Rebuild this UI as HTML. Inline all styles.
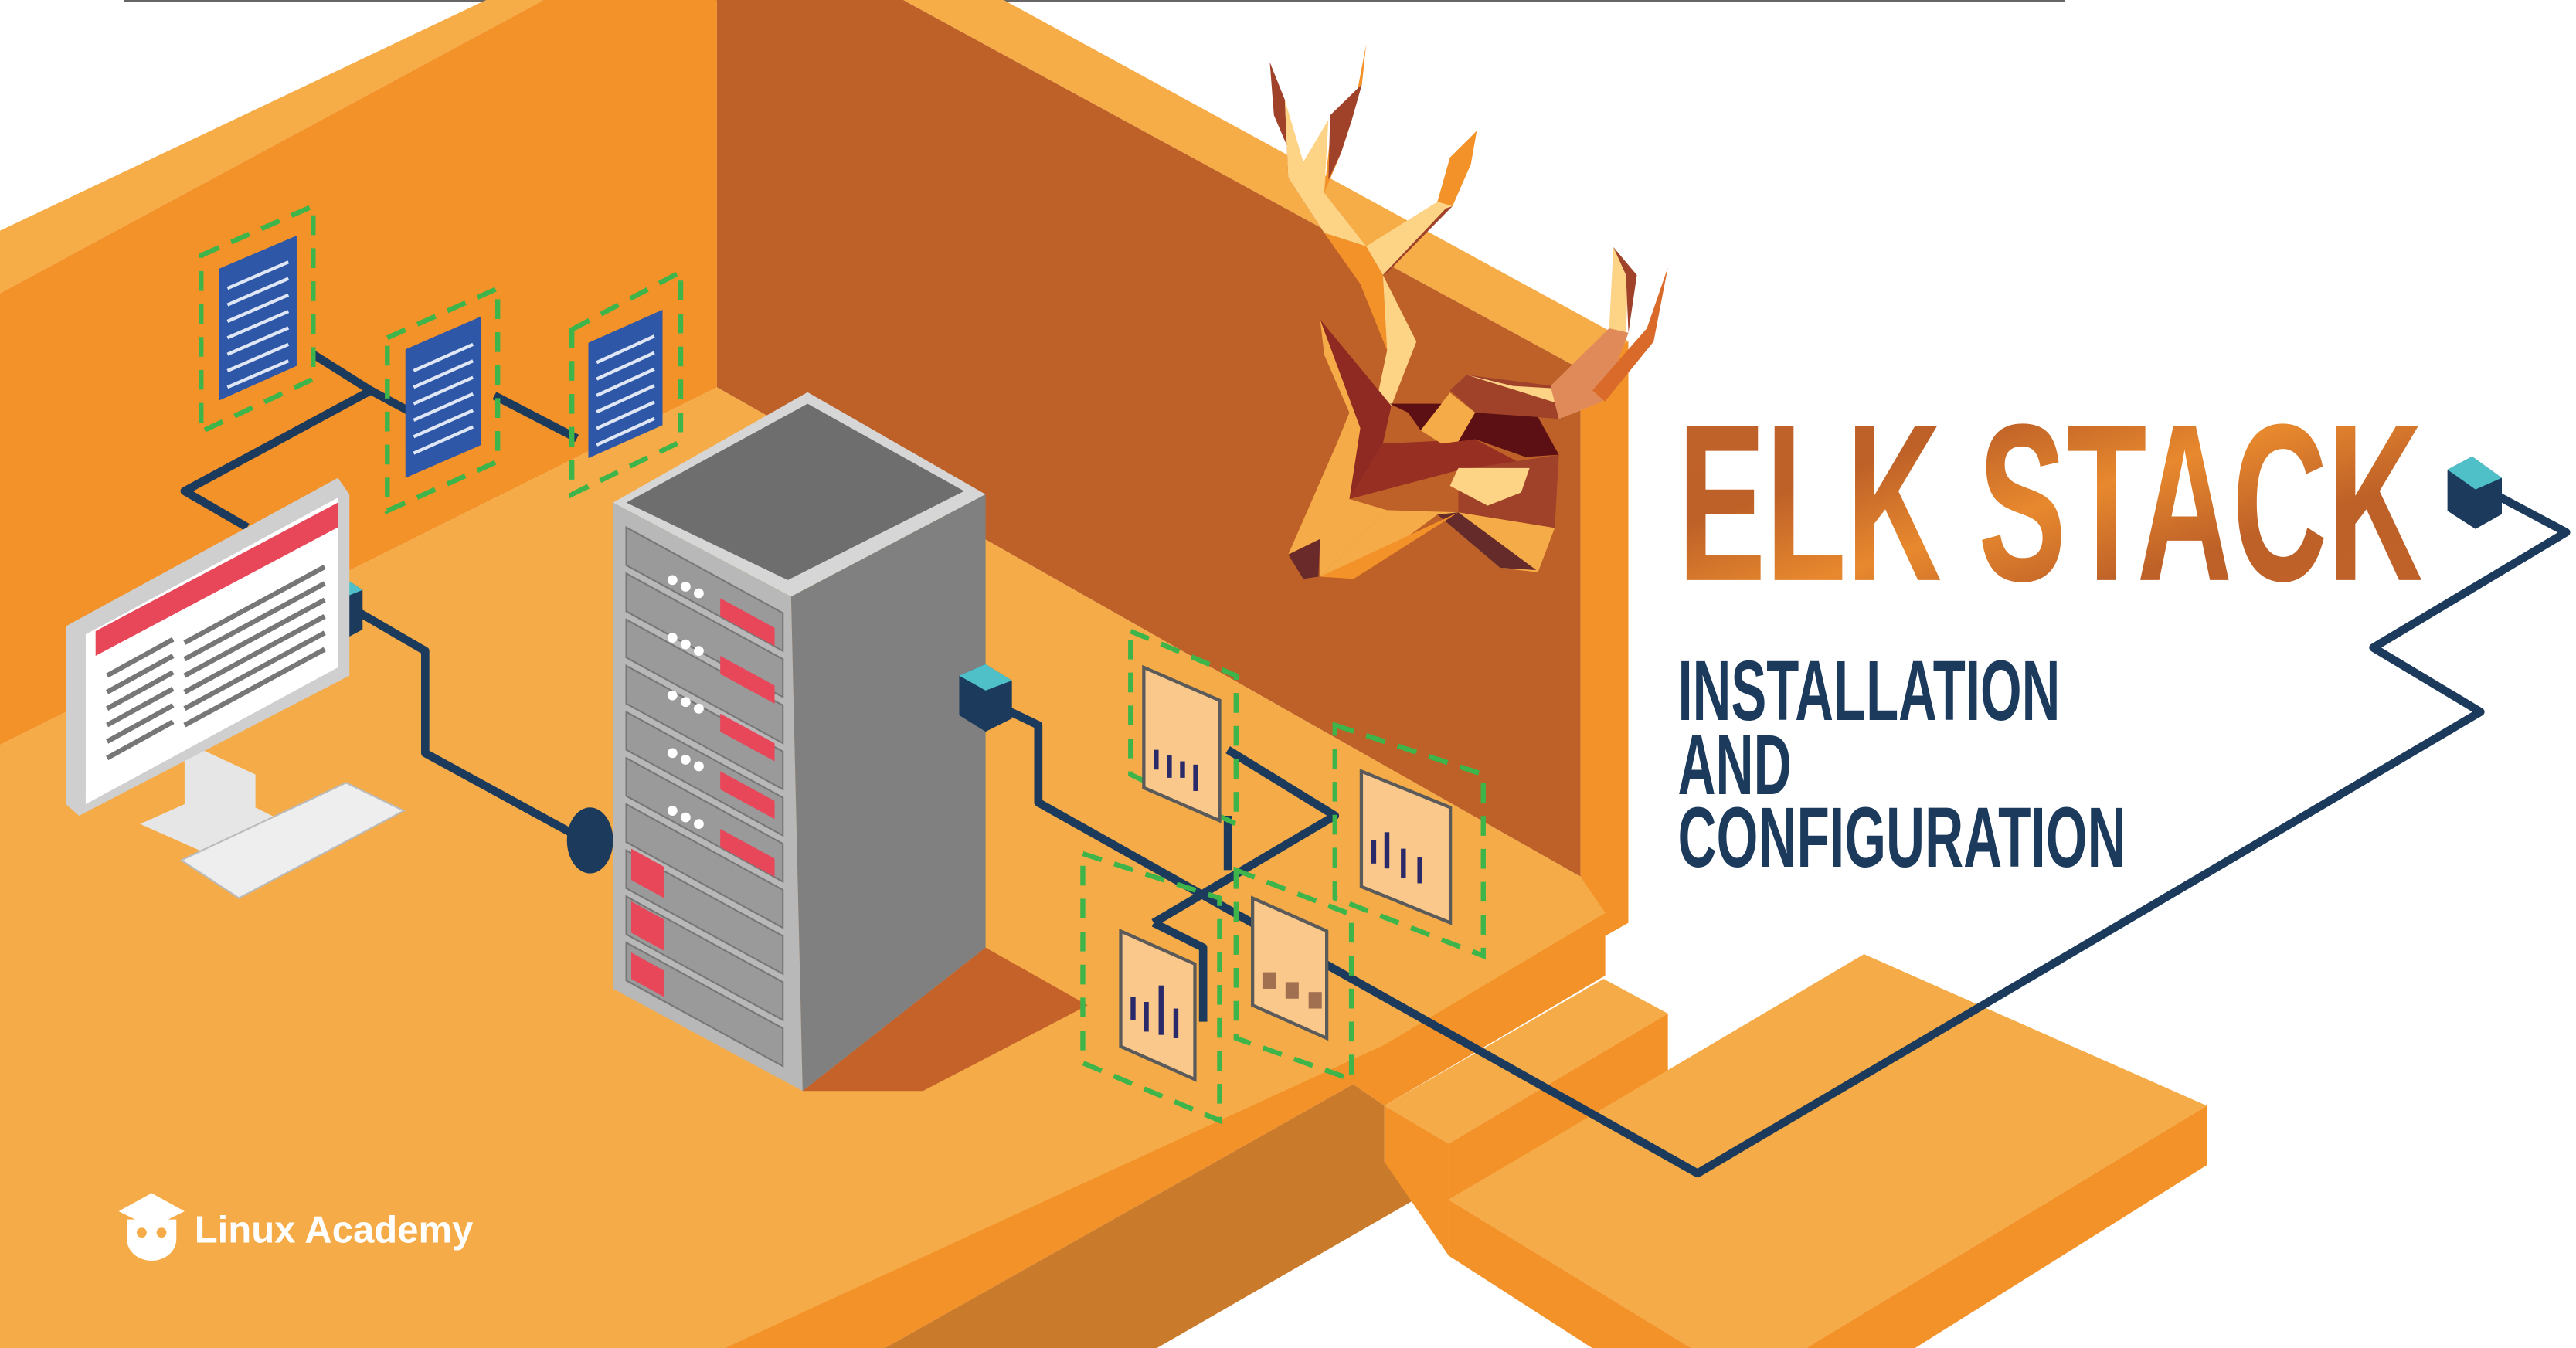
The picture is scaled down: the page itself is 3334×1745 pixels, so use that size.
<!DOCTYPE html>
<html><head><meta charset="utf-8"><style>
html,body{margin:0;padding:0;background:#fff;}
svg{display:block;}
</style></head><body>
<svg width="3334" height="1745" viewBox="0 0 1563 818" preserveAspectRatio="none" xmlns="http://www.w3.org/2000/svg">
<defs>
<linearGradient id="tg" x1="0" y1="0" x2="1" y2="1">
<stop offset="0" stop-color="#C0622A"/><stop offset="0.3" stop-color="#BE6128"/><stop offset="0.5" stop-color="#E8892E"/><stop offset="0.7" stop-color="#BE6128"/><stop offset="1" stop-color="#C0622A"/>
</linearGradient>
</defs>
<rect width="1563" height="818" fill="#fff"/>
<line x1="75" y1="0.5" x2="1253" y2="0.5" stroke="#666" stroke-width="1.2"/>
<!-- left wall -->
<polygon points="0,140 295,0 330,0 0,178" fill="#F6AC47"/>
<polygon points="0,178 330,0 435,0 435,235 0,452" fill="#F39229"/>
<!-- back wall -->
<polygon points="435,0 548,0 959,224 959,532 435,235" fill="#BE6128"/>
<polygon points="548,0 609,0 988,207 959,224" fill="#F6AC47"/>
<polygon points="959,224 988,207 988,560 974,568 959,532" fill="#F39229"/>
<!-- floor front orange -->
<polygon points="974,540 974,592 840,671 821,658 537,818 420,818" fill="#F39229"/>
<!-- floor -->
<polygon points="0,452 435,235 959,532 974,554 840,634 440,818 0,818" fill="#F5AC48"/>
<!-- brown lower -->
<polygon points="821,658 840,671 840,705 867,723 702,818 537,818" fill="#C97A2A"/>
<!-- middle step -->
<polygon points="973,594 1012,615 879,694 840,671" fill="#F5AC48"/>
<polygon points="1012,615 1012,650 879,728 879,694" fill="#F39229"/>
<polygon points="840,671 879,694 879,762 840,705" fill="#F39229"/>
<!-- big step -->
<polygon points="1131,579 1339,671 1096,818 1026,818 879,728" fill="#F5AC48"/>
<polygon points="879,728 1026,818 966,818 879,762" fill="#F39229"/>
<polygon points="1339,671 1339,707 1162,818 1096,818" fill="#F39229"/>
<!-- server shadow -->
<polygon points="487,662 598,575 660,610 560,662" fill="#C4622A"/>
<!-- server -->
<polygon points="372,305 490,238 598,300 480,362" fill="#D6D6D6"/>
<polygon points="380,305 490,245 585,298 478,352" fill="#6E6E6E"/>
<polygon points="372,305 480,362 487,662 372,600" fill="#B8B8B8"/>
<polygon points="480,362 598,300 598,575 487,662" fill="#808080"/>
<g fill="#9a9a9a" stroke="#777" stroke-width="1">
<polygon points="380,320 475,372 475,395 380,343"/>
<polygon points="380,348 475,400 475,423 380,371"/>
<polygon points="380,376 475,428 475,451 380,399"/>
<polygon points="380,404 475,456 475,479 380,427"/>
<polygon points="380,432 475,484 475,507 380,455"/>
<polygon points="380,460 475,512 475,535 380,483"/>
<polygon points="380,488 475,540 475,563 380,511"/>
<polygon points="380,516 475,568 475,591 380,539"/>
<polygon points="380,544 475,596 475,619 380,567"/>
<polygon points="380,572 475,624 475,647 380,595"/>
</g>
<g fill="#E8475A">
<polygon points="437,363 470,381 470,392 437,374"/>
<polygon points="437,398 470,416 470,427 437,409"/>
<polygon points="437,433 470,451 470,462 437,444"/>
<polygon points="437,468 470,486 470,497 437,479"/>
<polygon points="437,503 470,521 470,532 437,514"/>
<polygon points="383,515 403,526 403,545 383,534"/>
<polygon points="383,547 403,558 403,577 383,566"/>
<polygon points="383,578 403,589 403,605 383,594"/>
</g>
<g fill="#fff"><circle cx="408" cy="352" r="3"/><circle cx="416" cy="356" r="3"/><circle cx="424" cy="360" r="3"/>
<circle cx="408" cy="387" r="3"/><circle cx="416" cy="391" r="3"/><circle cx="424" cy="395" r="3"/>
<circle cx="408" cy="422" r="3"/><circle cx="416" cy="426" r="3"/><circle cx="424" cy="430" r="3"/>
<circle cx="408" cy="457" r="3"/><circle cx="416" cy="461" r="3"/><circle cx="424" cy="465" r="3"/>
<circle cx="408" cy="492" r="3"/><circle cx="416" cy="496" r="3"/><circle cx="424" cy="500" r="3"/></g>
<!-- cables -->
<g fill="none" stroke="#1B3A5C" stroke-width="5" stroke-linejoin="round">
<polyline points="150,320 112,298 225,237 190,215"/>
<polyline points="225,237 262,257"/>
<polyline points="300,240 350,266"/>
<polyline points="215,370 258,395 258,457 355,510"/>
<polyline points="605,428 630,440 630,487 1030,712 1505,432 1440,393 1557,323 1510,298"/>
<polyline points="745,455 810,495 700,560"/>
<polyline points="745,495 745,528"/>
<polyline points="700,560 730,575 730,620"/>
</g>
<ellipse cx="358" cy="510" rx="14" ry="20" fill="#1B3A5C"/>
<!-- connectors -->
<g>
<polygon points="188,355 205,348 220,358 220,382 205,390 188,380" fill="#1B3A5C"/><polygon points="188,355 205,348 220,358 205,364" fill="#4FBFC8"/>
<polygon points="582,410 598,403 614,413 614,436 598,444 582,434" fill="#1B3A5C"/><polygon points="582,410 598,403 614,413 598,419" fill="#4FBFC8"/>
<polygon points="1485,285 1500,277 1518,290 1518,312 1502,321 1485,310" fill="#1B3A5C"/><polygon points="1485,285 1500,277 1518,290 1502,297" fill="#4FBFC8"/>
</g>
<!-- documents -->
<g stroke="#3DB54A" stroke-width="3" stroke-dasharray="12,8" fill="none">
<polygon points="122,155 190,125 190,230 122,262"/>
<polygon points="235,205 302,175 302,280 235,310"/>
<polygon points="347,200 413,165 413,268 347,300"/>
<polygon points="686,383 750,410 750,500 686,470"/>
<polygon points="810,440 900,470 900,580 810,545"/>
<polygon points="657,518 740,545 740,680 657,645"/>
<polygon points="750,528 820,555 820,655 750,630"/>
</g>
<g fill="#2E57A8">
<polygon points="133,163 180,143 180,222 133,243"/>
<polygon points="246,212 292,192 292,270 246,290"/>
<polygon points="357,208 402,188 402,258 357,278"/>
</g>
<g stroke="#dfe6f5" stroke-width="2">
<path d="M138,175 l37,-16 M138,185 l37,-16 M138,195 l37,-16 M138,205 l37,-16 M138,215 l37,-16 M138,225 l37,-16 M138,235 l37,-16"/>
<path d="M251,225 l36,-16 M251,235 l36,-16 M251,245 l36,-16 M251,255 l36,-16 M251,265 l36,-16 M251,275 l36,-16"/>
<path d="M362,220 l35,-16 M362,230 l35,-16 M362,240 l35,-16 M362,250 l35,-16 M362,260 l35,-16 M362,270 l35,-16"/>
</g>
<g fill="#FAC88A" stroke="#5a5a5a" stroke-width="2">
<polygon points="694,405 740,425 740,498 694,478"/>
<polygon points="826,468 880,490 880,560 826,538"/>
<polygon points="680,565 725,585 725,655 680,635"/>
<polygon points="760,545 805,565 805,630 760,610"/>
</g>
<g fill="#2a2a6a">
<rect x="700" y="455" width="3" height="12"/><rect x="708" y="458" width="3" height="14"/><rect x="716" y="462" width="3" height="10"/><rect x="724" y="464" width="3" height="16"/>
<rect x="832" y="510" width="3" height="14"/><rect x="840" y="505" width="3" height="22"/><rect x="850" y="515" width="3" height="18"/><rect x="860" y="520" width="3" height="16"/>
<rect x="686" y="605" width="3" height="14"/><rect x="694" y="608" width="3" height="18"/><rect x="703" y="598" width="3" height="30"/><rect x="712" y="612" width="3" height="18"/>
<rect x="766" y="590" width="8" height="10" fill="#a07050"/><rect x="780" y="596" width="8" height="10" fill="#a07050"/><rect x="794" y="602" width="8" height="10" fill="#a07050"/>
</g>
<!-- monitor -->
<polygon points="112,450 155,470 155,490 185,505 130,520 85,500 112,488" fill="#E6E6E6"/>
<polygon points="40,380 205,290 212,300 212,410 48,495 40,488" fill="#CFCFCF"/>
<polygon points="52,385 205,302 205,405 52,488" fill="#fff"/>
<polygon points="58,383 205,305 205,320 58,398" fill="#E8475A"/>
<g stroke="#777" stroke-width="3">
<path d="M65,410 l40,-22 M65,420 l40,-22 M65,430 l40,-22 M65,440 l40,-22 M65,450 l40,-22 M65,460 l40,-22"/>
<path d="M112,390 l85,-46 M112,400 l85,-46 M112,410 l85,-46 M112,420 l85,-46 M112,430 l85,-46 M112,440 l85,-46"/>
</g>
<polygon points="110,522 210,475 245,492 145,545" fill="#EEEEEE" stroke="#bbb" stroke-width="1"/>
<!-- deer (drawn in zoom coords) -->
<g transform="matrix(0.5085 0 0 0.2692 750.1 0)">
<polygon points="40,140 58,225 62,400 105,525 45,260" fill="#A0422A"/>
<polygon points="58,225 80,365 110,270 105,435 155,555 105,525 62,400" fill="#FDD386"/>
<polygon points="155,100 150,190 115,255 105,435 125,345 138,270" fill="#F39229"/>
<polygon points="150,190 138,270 125,345 110,405 112,260" fill="#A0422A"/>
<polygon points="287,295 280,370 258,465 240,455 255,355" fill="#F39229"/>
<polygon points="240,455 258,465 175,620 155,555" fill="#FDD386"/>
<polygon points="258,465 180,615 175,620 250,470" fill="#A0422A"/>
<polygon points="105,525 155,555 175,620 180,790 148,640" fill="#F39229"/>
<polygon points="175,620 215,770 185,915 170,880 180,790" fill="#FDD386"/>
<polygon points="100,720 170,880 185,915 175,1000 135,1125 148,965 105,800" fill="#8F2A22"/>
<polygon points="100,720 105,800 135,930 120,1000 62,1250 100,1215 100,1300 180,1150 135,1125 148,965" fill="#F5AC48"/>
<polygon points="175,1000 285,990 350,1055 265,1060 135,1125" fill="#972F22"/>
<polygon points="275,845 420,880 385,910 390,945 285,930 255,880" fill="#A0422A"/>
<polygon points="275,845 385,910 420,880 330,870" fill="#FDD386"/>
<polygon points="285,930 360,940 385,1025 345,1030 285,990 265,995" fill="#5C1014"/>
<polygon points="220,970 255,885 285,930 265,995 245,1000" fill="#F5AC48"/>
<polygon points="183,910 245,910 220,970 205,930" fill="#5C1014"/>
<polygon points="265,1060 385,1025 380,1190 265,1155" fill="#A0422A"/>
<polygon points="265,1055 350,1055 340,1110 300,1140 255,1095" fill="#FDD386"/>
<polygon points="180,1150 265,1155 380,1190 360,1290 315,1280 240,1160 140,1300 100,1300" fill="#F5AC48"/>
<polygon points="240,1160 265,1155 358,1285 315,1280" fill="#652A2A"/>
<polygon points="100,1300 265,1155 140,1305" fill="#F39229"/>
<polygon points="62,1250 100,1215 98,1300 80,1305" fill="#6a2a2a"/>
<polygon points="450,557 468,620 465,750 445,740" fill="#FDD386"/>
<polygon points="450,557 478,620 468,750 465,620" fill="#A0422A"/>
<polygon points="445,740 468,750 437,905 385,945 375,870" fill="#E08A5A"/>
<polygon points="490,740 515,603 498,770 440,905 425,880" fill="#D96A2A"/>
</g>
<!-- title -->
<text x="1018" y="352" font-family="'Liberation Sans Narrow','Liberation Sans',sans-serif" font-weight="bold" font-size="136" fill="url(#tg)" textLength="452" lengthAdjust="spacingAndGlyphs">ELK STACK</text>
<g font-family="'Liberation Sans Narrow','Liberation Sans',sans-serif" font-weight="bold" fill="#1B3A5C" font-size="52">
<text x="1018" y="437" textLength="232" lengthAdjust="spacingAndGlyphs">INSTALLATION</text>
<text x="1018" y="482" textLength="69" lengthAdjust="spacingAndGlyphs">AND</text>
<text x="1018" y="526" textLength="272" lengthAdjust="spacingAndGlyphs">CONFIGURATION</text>
</g>
<!-- logo -->
<g fill="#fff">
<polygon points="72,735 92,724 112,735 92,745"/>
<path d="M77,740 h30 v12 a15,13 0 0 1 -30,0 z"/>
<circle cx="86" cy="748" r="3" fill="#F5AC48"/><circle cx="98" cy="748" r="3" fill="#F5AC48"/>
<text x="118" y="754" font-family="'Liberation Sans',sans-serif" font-weight="bold" font-size="23">Linux Academy</text>
</g>
</svg>
</body></html>
